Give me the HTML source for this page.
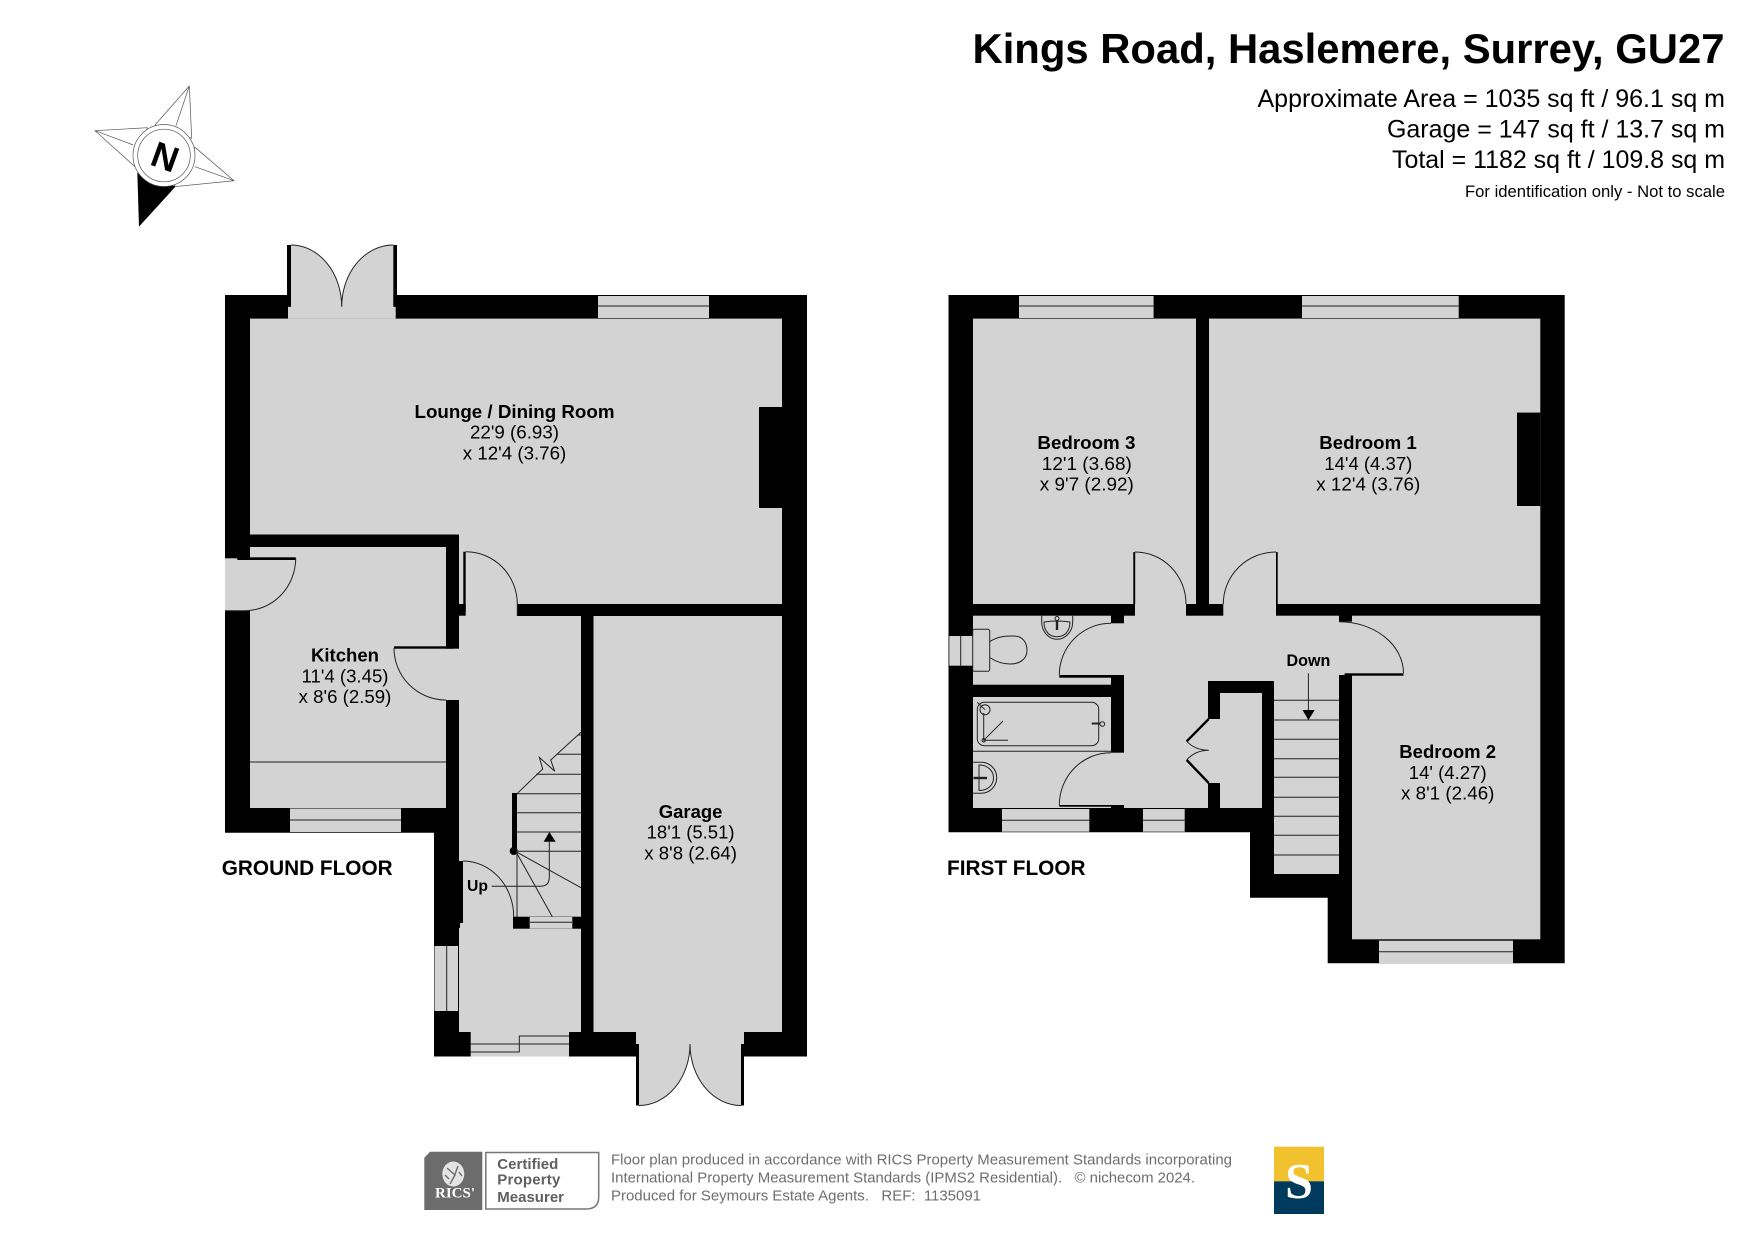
<!DOCTYPE html>
<html><head><meta charset="utf-8"><title>Kings Road floor plan</title>
<style>html,body{margin:0;padding:0;background:#fff}svg{display:block}text{font-family:"Liberation Sans",Arial,sans-serif;fill:#000}.b{font-weight:bold;font-size:18.5px;text-anchor:middle}.r{font-size:18.5px;text-anchor:middle}.t{font-size:25px;text-anchor:end}.f{font-size:14.7px;fill:#6e6e6e}.c{font-size:15px;font-weight:bold;fill:#5f5f5f}</style></head>
<body>
<svg width="1755" height="1241" viewBox="0 0 1755 1241" xmlns="http://www.w3.org/2000/svg">
<rect width="1755" height="1241" fill="#fff"/>
<!-- Header -->
<text x="1724.5" y="63" text-anchor="end" font-weight="bold" font-size="41.5" textLength="752" lengthAdjust="spacingAndGlyphs">Kings Road, Haslemere, Surrey, GU27</text>
<text class="t" x="1725" y="107" textLength="467.5" lengthAdjust="spacingAndGlyphs">Approximate Area = 1035 sq ft / 96.1 sq m</text>
<text class="t" x="1725" y="137.5" textLength="338" lengthAdjust="spacingAndGlyphs">Garage = 147 sq ft / 13.7 sq m</text>
<text class="t" x="1725" y="168" textLength="333" lengthAdjust="spacingAndGlyphs">Total = 1182 sq ft / 109.8 sq m</text>
<text x="1725" y="197" text-anchor="end" font-size="16.5" textLength="260" lengthAdjust="spacingAndGlyphs">For identification only - Not to scale</text>
<!-- Compass -->
<g stroke="#555" stroke-width=".7" fill="#fff">
<path d="M155,125 L189.3,86 L191.7,138.3 Z"/><path d="M189.3,86 L176,125.7" fill="none"/>
<path d="M147.3,127.7 L95,130.7 L135,166.7 Z"/><path d="M95,130.7 L133.3,145" fill="none"/>
<path d="M195,147.3 L234,180.7 L174,186.7 Z"/><path d="M234,180.7 L195,166.7" fill="none"/>
<path d="M137.7,173.3 L139.3,225.7 L175,186.7 Z" fill="#000" stroke="#000"/>
<circle cx="164" cy="155.5" r="31"/><circle cx="164" cy="155.5" r="26.3"/>
</g>
<text x="0" y="0" transform="translate(164.5,155.5) rotate(20) translate(-12,13.5)" font-size="36" font-weight="bold">N</text>
<!-- GROUND FLOOR -->
<polygon fill="#000" points="225,295 807,295 807,1056.5 434,1056.5 434,832.7 225,832.7"/>
<rect x="291" y="295" width="102.3" height="12" fill="#fff"/>
<rect x="639" y="1044" width="102" height="12.5" fill="#fff"/>
<g fill="#d3d3d3">
<rect x="250" y="318.6" width="532" height="215.9"/>
<rect x="459" y="534" width="323" height="70"/>
<rect x="459" y="604" width="58.5" height="12"/>
<rect x="459" y="616" width="122" height="416"/>
<rect x="250" y="547" width="196" height="261"/>
<rect x="446" y="648.7" width="13" height="51.3"/>
<rect x="225" y="558.3" width="25" height="52.4"/>
<rect x="593.5" y="616" width="188.5" height="416"/>
<path d="M291,245 A50.7,61.7 0 0 1 341.7,306.7 A51.6,61.7 0 0 1 393.3,245 L393.3,306.7 L395.7,306.7 L395.7,318.6 L288,318.6 L288,306.7 L291,306.7 Z"/>
<path d="M636,1032 L744,1032 L744,1044 L741,1044 L741,1105.5 A51,61.5 0 0 1 690,1044 A51,61.5 0 0 1 639,1105.5 L639,1044 L636,1044 Z"/>
<rect x="598" y="296" width="111" height="22"/>
<rect x="290" y="808.5" width="111" height="23.5"/>
<rect x="434.5" y="946" width="23.5" height="65"/>
<rect x="470.7" y="1032" width="98.3" height="24.5"/>
</g>
<g fill="#000">
<rect x="759" y="407" width="23" height="101"/>
<rect x="287" y="245" width="4" height="61.7"/><rect x="393.3" y="245" width="3.7" height="61.7"/>
<rect x="636" y="1044" width="3" height="61.5"/><rect x="741" y="1044" width="3" height="61.5"/>
<rect x="463.3" y="551.7" width="2.4" height="59"/><rect x="459" y="604" width="6.7" height="11.7"/>
<rect x="237.3" y="557.3" width="58.4" height="2.7"/><rect x="394" y="646.3" width="58.7" height="2.4"/>
<rect x="459" y="861" width="4" height="62"/><rect x="459" y="923" width="1" height="5"/>
<rect x="512" y="793" width="5" height="58"/><circle cx="513.7" cy="851" r="4"/>
<rect x="513" y="916.7" width="68" height="12"/>
<polygon points="549.3,832 543.7,841.7 555.7,841.7"/>
</g>
<rect x="529.7" y="917" width="42.6" height="11.5" fill="#d3d3d3"/>
<g fill="none" stroke="#222" stroke-width="1">
<path d="M465.7,551.7 A51.6,52.3 0 0 1 517.3,604 V616"/>
<path d="M295.7,558 A50.7,52.7 0 0 1 245,610.7 H225"/>
<path d="M394,648 A52,52 0 0 0 446,700"/>
<path d="M463,861 A50.7,55.7 0 0 1 513.7,916.7"/>
<path d="M741,1105.5 A51,61.5 0 0 1 690,1044 A51,61.5 0 0 1 639,1105.5"/>
<path d="M291,245 A50.7,61.7 0 0 1 341.7,306.7 A51.6,61.7 0 0 1 393.3,245"/>
<path d="M250,762 H446"/>
<path d="M598,306 H709M290,820 H401M446.7,946 V1011"/>
<path d="M569,1036 H519.3 V1052 H470.7M470.7,1044 H569"/>
<path d="M530,922.3 H572"/>
<path d="M517,851 V917M517,793.7 H581M517,812.7 H581M517,832 H581M517,851.3 H581M536,774.3 H581M556.7,754.3 H581M578,735 H581"/>
<path d="M517,793.7 L542.7,769 L539.3,757.3 L554.7,771.3 L550.7,760 L581,732.3"/>
<path d="M516,851.7 L581,887.7M516,851.7 L552.3,916.7"/>
<path d="M491.7,886.3 H540.3 Q549.3,886.3 549.3,877.3 V841.7"/>
</g>
<text class="b" x="514.5" y="418" textLength="200" lengthAdjust="spacingAndGlyphs">Lounge / Dining Room</text>
<text class="r" x="514.5" y="438.7" textLength="89" lengthAdjust="spacingAndGlyphs">22'9 (6.93)</text>
<text class="r" x="514.5" y="459.4" textLength="103.5" lengthAdjust="spacingAndGlyphs">x 12'4 (3.76)</text>
<text class="b" x="345" y="661.5" textLength="68" lengthAdjust="spacingAndGlyphs">Kitchen</text>
<text class="r" x="345" y="682.3" textLength="87" lengthAdjust="spacingAndGlyphs">11'4 (3.45)</text>
<text class="r" x="345" y="703" textLength="92.6" lengthAdjust="spacingAndGlyphs">x 8'6 (2.59)</text>
<text class="b" x="690.6" y="818" textLength="63.7" lengthAdjust="spacingAndGlyphs">Garage</text>
<text class="r" x="690.6" y="838.6" textLength="88" lengthAdjust="spacingAndGlyphs">18'1 (5.51)</text>
<text class="r" x="690.6" y="859.3" textLength="92.6" lengthAdjust="spacingAndGlyphs">x 8'8 (2.64)</text>
<text x="467" y="891" font-weight="bold" font-size="16" textLength="21" lengthAdjust="spacingAndGlyphs">Up</text>
<text x="221.7" y="875" font-weight="bold" font-size="21" textLength="171" lengthAdjust="spacingAndGlyphs">GROUND FLOOR</text>
<!-- FIRST FLOOR -->
<polygon fill="#000" points="948.5,295 1564.7,295 1564.7,963.3 1327.7,963.3 1327.7,897.7 1250,897.7 1250,832.3 948.5,832.3"/>
<g fill="#d3d3d3">
<rect x="973" y="318.6" width="223" height="285.4"/>
<rect x="1209" y="318.6" width="331.3" height="285.4"/>
<rect x="1352" y="615.7" width="188.3" height="323.6"/>
<rect x="973" y="615.7" width="138" height="69"/>
<rect x="973" y="697" width="138" height="111"/>
<rect x="1124" y="615.7" width="215" height="65.3"/>
<rect x="1124" y="681" width="84" height="127"/>
<rect x="1274" y="681" width="65" height="193"/>
<rect x="1220" y="693" width="42" height="115"/>
<rect x="1135" y="604" width="51" height="12"/>
<rect x="1223.3" y="604" width="52.7" height="12"/>
<rect x="1111" y="623.3" width="13" height="51.7"/>
<rect x="1111" y="752.7" width="13" height="52.3"/>
<rect x="1339" y="621.7" width="13" height="53.3"/>
<rect x="1208" y="719" width="12" height="64"/>
<rect x="1019" y="296" width="134.6" height="22"/>
<rect x="1302" y="296" width="156.7" height="22"/>
<rect x="1379" y="940.7" width="134" height="22.6"/>
<rect x="1002" y="809" width="87.3" height="22.7"/>
<rect x="1143" y="809" width="41.7" height="22.7"/>
<rect x="949.3" y="636" width="23.4" height="29.7"/>
</g>
<g fill="#000">
<rect x="1517" y="412.6" width="23.3" height="93.4"/>
<rect x="1133.3" y="552" width="1.9" height="52"/>
<rect x="1276" y="552" width="1.7" height="52"/>
<rect x="1059.3" y="675" width="59" height="2.7"/>
<rect x="1059.3" y="805" width="59" height="1.7"/>
<rect x="1344.6" y="673.3" width="58.9" height="2.4"/>
<polygon points="1302.5,710 1314.7,710 1308.4,720"/>
</g>
<g fill="none" stroke="#222" stroke-width="1">
<path d="M1135,552 A51,52 0 0 1 1186,604"/>
<path d="M1276,552 A52.7,52 0 0 0 1223.3,604"/>
<path d="M1111,623.3 A51.7,51.7 0 0 0 1059.3,675"/>
<path d="M1111,752.7 A51.7,52.3 0 0 0 1059.3,805"/>
<path d="M1339,621.7 A64.5,51.6 0 0 1 1403.5,673.3"/>
<path d="M1019,306 H1153.6M1302,306 H1458.7M1379,951.7 H1513M1002,820.3 H1089.3M1143,820.3 H1184.7M960.7,636 V665.7"/>
<path d="M1274,700.3 H1339M1274,720 H1339M1274,739.3 H1339M1274,758.7 H1339M1274,777.3 H1339M1274,797.3 H1339M1274,816.3 H1339M1274,835.3 H1339M1274,855 H1339"/>
<path d="M1308.4,673.3 V710"/>
<path d="M1186.7,741.3 Q1195,750 1208.7,750.3 Q1195,750.5 1186.7,760"/>
<rect x="972.7" y="629.3" width="17" height="42" rx="2"/>
<path d="M989.7,641.7 C998,636 1006,636 1014,636 C1023,636 1027,643 1027,650.5 C1027,658 1021,664 1010,664 C1002,664 995,661 989.7,657.5"/>
<path d="M1041.7,615.7 V622 C1041.7,632 1049,639.3 1057,639.3 C1065,639.3 1072.7,632 1072.7,622 V615.7"/>
<path d="M1044,622 Q1057,620 1070,622 C1070,632 1064,636.7 1057,636.7 C1050,636.7 1044,632 1044,622 Z"/>
<circle cx="1057" cy="618.5" r="2"/>
<path d="M1057,620 V630" stroke-width="2.4"/>
<rect x="977.3" y="702.3" width="121.4" height="43.4" rx="7"/>
<path d="M973,751.3 H1111"/>
<path d="M983.7,713 V740.3 H1008M983.7,740.3 L1003,721M977.3,702.3 L985,709.7"/>
<circle cx="985" cy="709.7" r="5"/><circle cx="983.7" cy="740.3" r="1.7"/>
<path d="M1091.7,723.5 H1100" stroke-width="2"/><circle cx="1102.3" cy="724" r="2.3"/>
<path d="M973,762.3 H981 C990,762.3 996.7,769 996.7,777.8 C996.7,786 990,793.3 981,793.3 H973"/>
<path d="M979,765 C988,765 993.5,771 993.5,777.8 C993.5,785 988,790.5 979,790.5 Z"/>
<path d="M973.5,778 H987" stroke-width="2.4"/>
</g>
<path d="M1208.7,719 L1186.7,741.3M1186.7,760 L1208.7,783" stroke="#000" stroke-width="2.4" fill="none"/>
<text class="b" x="1086.4" y="449" textLength="98" lengthAdjust="spacingAndGlyphs">Bedroom 3</text>
<text class="r" x="1086.8" y="470" textLength="90" lengthAdjust="spacingAndGlyphs">12'1 (3.68)</text>
<text class="r" x="1086.8" y="490.7" textLength="94" lengthAdjust="spacingAndGlyphs">x 9'7 (2.92)</text>
<text class="b" x="1368" y="449" textLength="97.5" lengthAdjust="spacingAndGlyphs">Bedroom 1</text>
<text class="r" x="1368.3" y="470" textLength="88" lengthAdjust="spacingAndGlyphs">14'4 (4.37)</text>
<text class="r" x="1368.3" y="490.7" textLength="104" lengthAdjust="spacingAndGlyphs">x 12'4 (3.76)</text>
<text class="b" x="1447.7" y="758" textLength="96.8" lengthAdjust="spacingAndGlyphs">Bedroom 2</text>
<text class="r" x="1447.7" y="779" textLength="77.9" lengthAdjust="spacingAndGlyphs">14' (4.27)</text>
<text class="r" x="1447.7" y="799.6" textLength="93.4" lengthAdjust="spacingAndGlyphs">x 8'1 (2.46)</text>
<text x="1286.5" y="666" font-weight="bold" font-size="16.5" textLength="43.8" lengthAdjust="spacingAndGlyphs">Down</text>
<text x="947" y="875" font-weight="bold" font-size="21" textLength="138.5" lengthAdjust="spacingAndGlyphs">FIRST FLOOR</text>
<!-- Footer -->
<path d="M430,1151.7 H482.3 V1210 H424.3 V1157.7 Z" fill="#6c6c6c"/>
<path d="M485.8,1152.5 H598.7 V1197 Q598.7,1209 586,1209 H485.8 Z" fill="#fff" stroke="#777" stroke-width="1.5"/>
<ellipse cx="453.3" cy="1174" rx="11" ry="12.5" fill="#e4e4e4"/>
<path d="M447,1168 L455,1175 L450,1184M458,1166 L454,1177M459,1172 L462,1176M445,1175 L449,1179" stroke="#6c6c6c" stroke-width="1.4" fill="none"/>
<text x="435" y="1197.7" font-weight="bold" font-size="15" style="font-family:'Liberation Serif',serif;fill:#fff" textLength="40" lengthAdjust="spacingAndGlyphs">RICS'</text>
<text class="c" x="497.3" y="1169" textLength="61" lengthAdjust="spacing">Certified</text>
<text class="c" x="497.3" y="1184.5" textLength="63" lengthAdjust="spacing">Property</text>
<text class="c" x="497.3" y="1202" textLength="66.7" lengthAdjust="spacing">Measurer</text>
<text class="f" x="611" y="1164.7" textLength="621" lengthAdjust="spacingAndGlyphs">Floor plan produced in accordance with RICS Property Measurement Standards incorporating</text>
<text class="f" x="611" y="1182.7" textLength="584" lengthAdjust="spacingAndGlyphs">International Property Measurement Standards (IPMS2 Residential).&#160;&#160;&#160;©&#160;nichecom 2024.</text>
<text class="f" x="611" y="1200.7" textLength="370" lengthAdjust="spacingAndGlyphs">Produced for Seymours Estate Agents.&#160;&#160;&#160;REF:&#160;&#160;1135091</text>
<rect x="1274" y="1146.7" width="50" height="34.6" fill="#f2c12e"/>
<rect x="1274" y="1181.3" width="50" height="32.7" fill="#003a5c"/>
<text x="1299" y="1197.5" text-anchor="middle" font-size="50" font-weight="bold" style="font-family:'Liberation Serif',serif;fill:#fff">S</text>
</svg>
</body></html>
